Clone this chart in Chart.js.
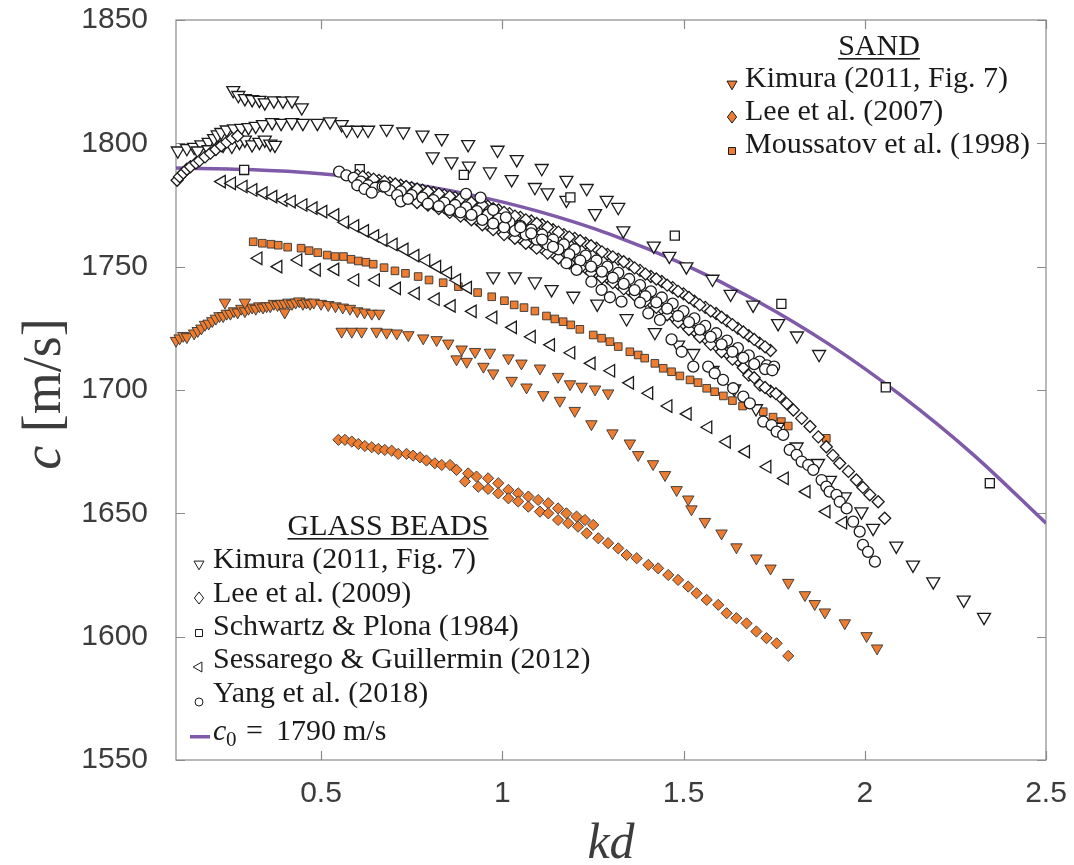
<!DOCTYPE html>
<html>
<head>
<meta charset="utf-8">
<script src="https://cdn.jsdelivr.net/npm/chart.js@4.4.1/dist/chart.umd.min.js"></script>
<style>
  html, body { margin: 0; padding: 0; background: #fff; }
  #wrap { width: 1074px; height: 865px; }
</style>
</head>
<body>
<div id="wrap"><canvas id="chart" width="1074" height="865"></canvas></div>
<script>
// axis ticks
const xTicks = [0.5, 1, 1.5, 2, 2.5];
const xTickLabels = ['0.5', '1', '1.5', '2', '2.5'];
const yTicks = [1550, 1600, 1650, 1700, 1750, 1800, 1850];
const yTickLabels = ['1550', '1600', '1650', '1700', '1750', '1800', '1850'];

// c0 = 1790 m/s reference curve
const lineX = [0.1, 0.3, 0.5, 0.7, 0.9, 1.1, 1.3, 1.5, 1.7, 1.9, 2.1, 2.3, 2.5];
const lineY = [1790, 1789.4, 1787.7, 1784.5, 1779.5, 1772.4, 1763, 1751, 1736.3, 1718.7, 1697.8, 1673.7, 1646];

// GLASS BEADS - Kimura (2011, Fig. 7)
const gkX = [
  0.258, 0.272, 0.29, 0.31, 0.33, 0.345, 0.37, 0.395, 0.42, 0.447,
  0.105, 0.13, 0.15, 0.17, 0.19, 0.205, 0.215, 0.225, 0.24, 0.26,
  0.28, 0.3, 0.32, 0.34, 0.365, 0.39, 0.42, 0.45, 0.49, 0.525,
  0.557, 0.571, 0.601, 0.63, 0.681, 0.727, 0.78, 0.833, 0.906, 0.987,
  1.04, 1.109, 1.177, 1.233, 1.288, 1.32,
  0.16, 0.19, 0.23, 0.254, 0.275, 0.29, 0.31, 0.33, 0.345, 0.36, 0.373,
  0.808, 0.86, 0.908, 0.966, 1.026, 1.09, 1.125, 1.177, 1.256, 1.334,
  1.418, 1.461, 1.508, 1.58, 1.63, 1.692, 1.761, 1.813, 1.874,
  0.975, 1.035, 1.09, 1.136, 1.196, 1.262, 1.343, 1.421, 1.485, 1.527,
  1.58, 1.64, 1.7, 1.76, 1.812, 1.871, 1.904, 1.945, 1.991, 2.023,
  2.087, 2.133, 2.189, 2.273, 2.329
];
const gkY = [
  1821.5, 1819.5, 1818.2, 1817.8, 1817.5, 1816.5, 1817.3, 1817.2, 1817.3, 1814.5,
  1797, 1798, 1798.5, 1799.5, 1800.5, 1802, 1803.5, 1804.5, 1805.5, 1806,
  1806.2, 1806.5, 1807, 1807.7, 1808.5, 1808.2, 1808.5, 1808.2, 1808.2, 1808.8,
  1807.7, 1805.4, 1805.4, 1805.4, 1805.8, 1804.7, 1803.4, 1802, 1799.6, 1797.3,
  1793.5, 1789.9, 1785.1, 1781.8, 1777, 1774.1,
  1797, 1797.5, 1799.3, 1798.9, 1800.5, 1801.4, 1799.5, 1800.5, 1801.4, 1799.8, 1799.3,
  1794.6, 1792.6, 1790.9, 1788.5, 1785.4, 1782.2, 1780, 1777, 1771.6, 1764.6,
  1758.4, 1754.3, 1750, 1745, 1738.9, 1734.5, 1727, 1722, 1714.5,
  1746, 1746, 1743.9, 1740.8, 1738.1, 1734.9, 1729, 1723.4, 1718.3, 1714.9,
  1708, 1700.5, 1692.5, 1685, 1677, 1670.3, 1663.5, 1656.8, 1650.7, 1644,
  1636.8, 1629.1, 1622.3, 1614.9, 1607.9
];

// GLASS BEADS - Lee et al. (2009)
const glX = [
  0.103, 0.11, 0.12, 0.13, 0.14, 0.155, 0.165, 0.18, 0.195, 0.21, 0.225, 0.24, 0.255, 0.27,
  0.60, 0.63, 0.66, 0.69, 0.72, 0.75, 0.78, 0.81, 0.84, 0.87,
  0.90, 0.93, 0.96, 0.99, 1.02, 1.05, 1.08, 1.11, 1.14, 1.17,
  1.20, 1.23, 1.26, 1.29, 1.32, 1.35, 1.38, 1.41, 1.44, 1.47,
  1.50, 1.53, 1.56, 1.59, 1.62, 1.65, 1.68, 1.71, 1.74,
  0.615, 0.645, 0.675, 0.705, 0.735, 0.765, 0.795, 0.825, 0.855, 0.885,
  0.915, 0.945, 0.975, 1.005, 1.035, 1.065, 1.095, 1.125, 1.155, 1.185,
  1.215, 1.245, 1.275, 1.305, 1.335, 1.365, 1.395, 1.425, 1.455, 1.485,
  1.515, 1.545, 1.575, 1.605, 1.635, 1.665, 1.695, 1.725,
  0.75, 0.78, 0.81, 0.84, 0.87, 0.90, 0.93, 0.96, 0.99, 1.02,
  1.05, 1.08, 1.11, 1.14, 1.17, 1.20, 1.23, 1.26, 1.29, 1.32,
  1.35, 1.38, 1.41, 1.44, 1.47, 1.50, 1.53, 1.56, 1.59, 1.62,
  1.65, 1.68, 1.711, 1.74, 1.766, 1.785, 1.803, 1.826, 1.849, 1.872,
  1.894, 1.912, 1.931, 1.955, 1.977, 1.995, 2.014, 2.037, 2.055,
  0.765, 0.795, 0.825, 0.855, 0.885, 0.915, 0.945, 0.975, 1.005, 1.035,
  1.065, 1.095, 1.125, 1.155, 1.185, 1.215, 1.245, 1.275, 1.305, 1.335,
  1.365, 1.395, 1.425, 1.455, 1.485, 1.515, 1.545, 1.575, 1.605, 1.635,
  1.665, 1.695, 1.725, 1.755
];
const glY = [
  1785, 1786.5, 1788, 1789.5, 1790.5, 1792, 1793, 1794.5, 1796, 1797.5, 1799, 1800.5, 1802, 1803,
  1787, 1786, 1785, 1784, 1783, 1782, 1781, 1780, 1779, 1778,
  1777, 1775.5, 1774.5, 1773, 1771.5, 1770, 1768.5, 1767, 1765, 1763,
  1761.5, 1759.5, 1757.5, 1755, 1753, 1751, 1748.5, 1746, 1744, 1741.5,
  1739, 1736, 1733.5, 1731, 1728, 1725, 1722, 1719, 1716,
  1786.5, 1785.5, 1784.5, 1783.5, 1782.5, 1781.5, 1780.5, 1779.5, 1778.5, 1777.5,
  1776, 1775, 1773.5, 1772, 1770.5, 1769, 1767.5, 1766, 1764, 1762,
  1760.5, 1758.5, 1756, 1754, 1752, 1749.5, 1747, 1745, 1742.5, 1740,
  1737.5, 1734.5, 1732, 1729.5, 1726.5, 1723.5, 1720.5, 1717.5,
  1778, 1777, 1775.5, 1774, 1772.5, 1771, 1769, 1767, 1765.5, 1763.5,
  1761.5, 1759.5, 1757.5, 1755.5, 1753.5, 1751.5, 1749.5, 1747.5, 1745.5, 1743,
  1740.5, 1738, 1735.5, 1733, 1730, 1727, 1724, 1721, 1718, 1715,
  1712, 1706, 1702, 1699.5, 1697.3, 1694.5, 1691.9, 1688.5, 1685.2, 1681,
  1677, 1673.5, 1670.3, 1667, 1663.5, 1660.5, 1657.5, 1654.7, 1648,
  1776, 1775, 1773.5, 1772, 1770.5, 1769, 1767, 1765, 1763, 1761.5,
  1759.5, 1757.5, 1755.5, 1753.5, 1751.5, 1749.5, 1747.5, 1745.5, 1743.5, 1741,
  1738.5, 1736, 1733.5, 1730.5, 1727.5, 1724.5, 1721.5, 1718.5, 1715.5, 1712.5,
  1709, 1705, 1701, 1698.5
];

// GLASS BEADS - Schwartz & Plona (1984)
const spX = [0.288, 0.607, 0.894, 1.188, 1.476, 1.77, 2.058, 2.345];
const spY = [1789.2, 1789.5, 1787.2, 1778.1, 1762.6, 1734.9, 1701.1, 1662.2];

// GLASS BEADS - Sessarego & Guillermin (2012)
const sgX = [
  0.226, 0.254, 0.286, 0.313, 0.341, 0.368, 0.396, 0.419, 0.451, 0.479,
  0.506, 0.539, 0.566, 0.594, 0.621, 0.649, 0.672, 0.70, 0.73, 0.76,
  0.79, 0.82, 0.85, 0.875, 0.905,
  0.327, 0.382, 0.437, 0.488, 0.539, 0.594, 0.651, 0.709, 0.761, 0.816,
  0.86, 0.918, 0.975, 1.029, 1.081, 1.134, 1.19, 1.246, 1.3, 1.352,
  1.405, 1.458, 1.511, 1.568, 1.619, 1.672, 1.731, 1.779, 1.839, 1.894,
  1.94
];
const sgY = [
  1784.5, 1783.8, 1782.5, 1781.1, 1779.8, 1778.4, 1777, 1776.4, 1775, 1773.7,
  1772.3, 1771, 1768, 1766.5, 1764.5, 1762.5, 1760.8, 1759, 1757, 1754.5,
  1752.5, 1750, 1747.5, 1744.5, 1741.5,
  1753.4, 1750, 1752.7, 1748.7, 1748.9, 1744.6, 1744.6, 1741.2, 1739.2, 1736.8,
  1734.1, 1731.9, 1729.4, 1725.4, 1721.6, 1718.3, 1715.1, 1710.8, 1707.8, 1702.9,
  1698.7, 1693.5, 1690.3, 1684.9, 1679, 1675, 1668.9, 1664.2, 1658.8, 1650.7,
  1646.2
];

// GLASS BEADS - Yang et al. (2018)
const yaX = [
  0.55, 0.57, 0.59, 0.61, 0.63, 0.65, 0.67, 0.69, 0.72, 0.75,
  0.78, 0.81, 0.84, 0.87, 0.90, 0.93, 0.96, 0.99, 1.02, 1.05,
  1.08, 1.11, 1.14, 1.17, 1.20, 1.23, 1.26, 1.29, 1.32, 1.35,
  1.38, 1.41, 1.44, 1.47, 1.50, 1.53, 1.56, 1.59, 1.62, 1.65,
  1.68, 1.71, 1.73, 1.75,
  0.795, 0.825, 0.855, 0.885, 0.915, 0.945, 0.975, 1.005, 1.035, 1.065,
  1.095, 1.125, 1.155, 1.185, 1.215, 1.245, 1.275, 1.305, 1.335, 1.365,
  1.395, 1.425, 1.455, 1.485, 1.515, 1.545, 1.575, 1.605, 1.635, 1.665,
  1.695, 1.725, 1.745,
  0.60, 0.62, 0.64, 0.676, 0.71, 0.72, 0.74,
  0.9, 0.94, 0.975, 1.01, 1.05, 1.08, 1.11, 1.14, 1.177, 1.205,
  1.246, 1.274, 1.297, 1.329, 1.38, 1.403, 1.435, 1.467, 1.495, 1.527,
  1.568, 1.586, 1.609, 1.637, 1.665, 1.683, 1.72, 1.743, 1.757, 1.775,
  1.793, 1.812, 1.826, 1.844, 1.858, 1.881, 1.894, 1.903, 1.922, 1.931,
  1.95, 1.968, 1.986, 1.995, 2.009, 2.028
];
const yaY = [
  1788.5, 1787, 1786, 1784.5, 1783, 1782, 1782.5, 1781, 1780.5, 1779,
  1778, 1777, 1776, 1775, 1774, 1772.5, 1771, 1769.5, 1768, 1766.5,
  1765, 1763, 1761, 1759, 1757, 1754.5, 1752.5, 1750, 1747.5, 1745,
  1742.5, 1740, 1737.5, 1735, 1732, 1729, 1726, 1723, 1720, 1717,
  1714, 1711.5, 1710, 1709.5,
  1775.5, 1774.5, 1773, 1772, 1771, 1769, 1767.5, 1766, 1764.5, 1763,
  1761, 1759, 1757, 1755, 1752.5, 1750, 1748, 1745.5, 1743, 1740.5,
  1738, 1735.5, 1733, 1730, 1727.5, 1724.5, 1721.5, 1718.5, 1715.5, 1713,
  1710.5, 1708.5, 1708,
  1783, 1781.5, 1780, 1782.5, 1779, 1776.5, 1777.5,
  1779.5, 1778, 1773, 1770, 1766, 1763.5, 1761, 1758, 1751.4, 1748.7,
  1743.9, 1740.6, 1737.6, 1735.8, 1735.4, 1731.1, 1728.4, 1720.5, 1715.5, 1709.5,
  1709.5, 1706.8, 1704.1, 1700.7, 1697.3, 1694.6, 1687.2, 1685.8, 1683.1, 1681.8,
  1675.7, 1673.7, 1671, 1669.6, 1667.6, 1663.5, 1660.8, 1658.8, 1657.5, 1654.7,
  1652, 1646.6, 1642.6, 1637.2, 1634.4, 1630.4
];

// SAND - Kimura (2011, Fig. 7)
const skX = [
  0.10, 0.11, 0.12, 0.13, 0.15, 0.16, 0.17, 0.18, 0.19, 0.20,
  0.21, 0.22, 0.23, 0.24, 0.25, 0.26, 0.27, 0.28, 0.29, 0.30,
  0.31, 0.32, 0.33, 0.34, 0.35, 0.36, 0.37, 0.38, 0.39, 0.40,
  0.41, 0.42, 0.43, 0.44, 0.45, 0.46, 0.47, 0.48, 0.50, 0.52,
  0.54, 0.56, 0.58, 0.60, 0.62, 0.64, 0.66,
  0.235, 0.29, 0.40,
  0.557, 0.585, 0.612, 0.653, 0.681, 0.709, 0.741, 0.782, 0.819, 0.851,
  0.888, 0.925, 0.966, 1.017, 1.053, 1.104, 1.154, 1.187, 1.219, 1.256,
  1.292,
  0.874, 0.902, 0.948, 0.975, 1.026, 1.067, 1.113, 1.159, 1.2, 1.246,
  1.304, 1.352, 1.375, 1.416, 1.449, 1.481, 1.513, 1.522, 1.559, 1.605,
  1.646, 1.701, 1.74, 1.789, 1.835, 1.862, 1.89, 1.945, 2.005, 2.034
];
const skY = [
  1720, 1721, 1722, 1721.5, 1723, 1724, 1725, 1726.5, 1727, 1728,
  1729, 1730, 1730, 1731, 1731, 1732, 1731.5, 1733, 1732, 1733,
  1733.5, 1733, 1734, 1733.5, 1734, 1734, 1735, 1734.5, 1735, 1735,
  1735.5, 1735, 1735.5, 1736, 1735, 1735.5, 1735, 1735.5, 1735, 1734.5,
  1734, 1733.5, 1733, 1732, 1731.5, 1731, 1731,
  1735.5, 1735.5, 1731.5,
  1723.7, 1723.7, 1723.7, 1723.7, 1723.3, 1723, 1722.3, 1721, 1720.3, 1718.9,
  1716.5, 1715.5, 1715.2, 1712.9, 1710.8, 1708.8, 1705.4, 1702.4, 1701.4, 1700.3,
  1698.7,
  1712.5, 1711.5, 1709.5, 1706.8, 1703.8, 1701.1, 1698, 1695.7, 1691.6, 1686.2,
  1682.5, 1678.4, 1673.7, 1670, 1665.6, 1659.5, 1655.7, 1651.7, 1646.6, 1641.9,
  1636.3, 1631.8, 1627.7, 1621.9, 1616.9, 1613.3, 1609.9, 1605.5, 1600.3, 1595.3
];

// SAND - Lee et al. (2007)
const slX = [
  0.548, 0.566, 0.585, 0.603, 0.621, 0.64, 0.658, 0.676, 0.695, 0.713,
  0.736, 0.754, 0.773, 0.791, 0.814, 0.833, 0.856, 0.874, 0.897, 0.906,
  0.929, 0.934, 0.961, 0.961, 0.989, 0.989, 1.017, 1.017, 1.044, 1.044,
  1.072, 1.072, 1.099, 1.104, 1.127, 1.127, 1.154, 1.154, 1.177, 1.182,
  1.205, 1.209, 1.228, 1.251, 1.233, 1.265, 1.292, 1.32, 1.343, 1.371,
  1.403, 1.43, 1.458, 1.485, 1.513, 1.536, 1.564, 1.596, 1.619, 1.646,
  1.674, 1.701, 1.729, 1.757, 1.789
];
const slY = [
  1679.8, 1679.8, 1679.1, 1678.1, 1677.3, 1676.8, 1676.1, 1675.7, 1675.4, 1674.1,
  1674.1, 1673.4, 1672.7, 1671.4, 1670.3, 1669.6, 1669.6, 1667.6, 1662.9, 1666.2,
  1664.9, 1660.8, 1664.2, 1659.9, 1662.2, 1658.1, 1659.5, 1656.1, 1658.1, 1654.8,
  1656.8, 1652.7, 1655.4, 1650.7, 1654.1, 1650, 1652, 1647.3, 1650, 1646,
  1648.7, 1644.6, 1647.3, 1645.3, 1641.9, 1639.9, 1637.9, 1635.8, 1633.1, 1631.8,
  1629.1, 1627.7, 1625, 1623, 1620.3, 1617.6, 1614.9, 1612.9, 1609.5, 1607.5,
  1605.4, 1602.1, 1599.4, 1597.3, 1592.2
];

// SAND - Moussatov et al. (1998)
const smX = [
  0.313, 0.338, 0.362, 0.382, 0.408, 0.445, 0.467, 0.491, 0.517, 0.539,
  0.562, 0.583, 0.603, 0.624, 0.644, 0.674, 0.704, 0.733, 0.768, 0.798,
  0.837, 0.879, 0.932, 0.971, 1.006, 1.033, 1.06, 1.09, 1.122, 1.145,
  1.168, 1.189, 1.214, 1.251, 1.274, 1.297, 1.32, 1.352, 1.375, 1.393,
  1.421, 1.444, 1.467, 1.49, 1.518, 1.54, 1.564, 1.586, 1.61, 1.635,
  1.663, 1.72, 1.747, 1.77, 1.789, 1.894
];
const smY = [
  1760.1, 1759.5, 1759.1, 1758.7, 1757.9, 1757.5, 1756.5, 1755.7, 1754.7, 1754.1,
  1754.1, 1753, 1752.3, 1751.8, 1751, 1749.6, 1748.3, 1747.3, 1746, 1744.6,
  1743.5, 1741.9, 1739.5, 1737.8, 1736.2, 1734.5, 1733.4, 1732, 1730, 1728.8,
  1727.7, 1726.4, 1724.6, 1722.3, 1721, 1719.6, 1717.6, 1715.5, 1714.2, 1712.9,
  1710.8, 1708.8, 1707.4, 1705.7, 1704.1, 1703, 1700.7, 1699.3, 1697.6, 1695.7,
  1693.5, 1691.2, 1689, 1687.2, 1685.4, 1680.4
];

const ORANGE = '#ED7D31';
const PURPLE = '#7E5AA8';
const EDGE = '#1a1a1a';
const SERIF = '"Liberation Serif", "Times New Roman", serif';
const SANS = '"Liberation Sans", Arial, Helvetica, sans-serif';

function pts(xs, ys) {
  return xs.map(function(x, i) { return { x: x, y: ys[i] }; });
}

function glassSet(label, xs, ys, style, rotation, radius) {
  return {
    label: label, data: pts(xs, ys), pointStyle: style, rotation: rotation,
    pointRadius: radius, backgroundColor: '#ffffff', borderColor: EDGE,
    borderWidth: 1.3, clip: false
  };
}

function sandSet(label, xs, ys, style, rotation, radius) {
  return {
    label: label, data: pts(xs, ys), pointStyle: style, rotation: rotation,
    pointRadius: radius, backgroundColor: ORANGE, borderColor: '#333333',
    borderWidth: 0.9, clip: false
  };
}

// small marker drawn by hand for the two legends
function marker(ctx, kind, x, y, s, fill) {
  ctx.save();
  ctx.fillStyle = fill;
  ctx.strokeStyle = EDGE;
  ctx.lineWidth = 1;
  ctx.beginPath();
  if (kind === 'down') {
    ctx.moveTo(x - s / 2, y - s * 0.29);
    ctx.lineTo(x + s / 2, y - s * 0.29);
    ctx.lineTo(x, y + s * 0.58);
  } else if (kind === 'left') {
    ctx.moveTo(x + s * 0.29, y - s / 2);
    ctx.lineTo(x + s * 0.29, y + s / 2);
    ctx.lineTo(x - s * 0.58, y);
  } else if (kind === 'diamond') {
    ctx.moveTo(x, y - s * 0.55);
    ctx.lineTo(x + s * 0.42, y);
    ctx.lineTo(x, y + s * 0.55);
    ctx.lineTo(x - s * 0.42, y);
  } else if (kind === 'square') {
    ctx.rect(x - s / 2, y - s / 2, s, s);
  } else {
    ctx.arc(x, y, s / 2, 0, Math.PI * 2);
  }
  ctx.closePath();
  ctx.fill();
  ctx.stroke();
  ctx.restore();
}

const framePlugin = {
  id: 'frame',
  beforeDatasetsDraw: function(chart) {
    const ctx = chart.ctx;
    const a = chart.chartArea;
    const xs = chart.scales.x;
    const ys = chart.scales.y;
    ctx.save();
    ctx.strokeStyle = '#8a8a8a';
    ctx.lineWidth = 1.2;
    ctx.strokeRect(a.left, a.top, a.right - a.left, a.bottom - a.top);
    ctx.beginPath();
    xTicks.forEach(function(v) {
      const px = Math.round(xs.getPixelForValue(v)) + 0.5;
      ctx.moveTo(px, a.bottom); ctx.lineTo(px, a.bottom - 9);
      ctx.moveTo(px, a.top); ctx.lineTo(px, a.top + 9);
    });
    yTicks.forEach(function(v) {
      const py = Math.round(ys.getPixelForValue(v)) + 0.5;
      ctx.moveTo(a.left, py); ctx.lineTo(a.left + 9, py);
      ctx.moveTo(a.right, py); ctx.lineTo(a.right - 9, py);
    });
    ctx.stroke();
    ctx.restore();
  },
  afterDraw: function(chart) {
    const ctx = chart.ctx;
    ctx.save();
    ctx.fillStyle = '#1a1a1a';
    ctx.strokeStyle = '#1a1a1a';
    ctx.textBaseline = 'alphabetic';

    // y axis title: c [m/s]
    ctx.save();
    ctx.translate(60, 394);
    ctx.rotate(-Math.PI / 2);
    ctx.fillStyle = '#3c3c3c';
    ctx.font = 'italic 54px ' + SERIF;
    const cw = ctx.measureText('c ').width;
    ctx.font = '54px ' + SERIF;
    const rw = ctx.measureText('[m/s]').width;
    const start = -(cw + rw) / 2;
    ctx.font = 'italic 54px ' + SERIF;
    ctx.fillText('c', start, 0);
    ctx.font = '54px ' + SERIF;
    ctx.fillText('[m/s]', start + cw, 0);
    ctx.restore();

    // x axis title: kd
    ctx.save();
    ctx.fillStyle = '#3c3c3c';
    ctx.font = 'italic 50px ' + SERIF;
    ctx.textAlign = 'center';
    ctx.fillText('kd', 611, 858);
    ctx.restore();

    // SAND legend
    ctx.font = '30px ' + SERIF;
    ctx.textAlign = 'center';
    ctx.fillText('SAND', 879, 55);
    let w = ctx.measureText('SAND').width;
    ctx.fillRect(879 - w / 2, 58, w, 1.6);
    ctx.textAlign = 'left';
    ctx.fillText('Kimura (2011, Fig. 7)', 745, 87);
    ctx.fillText('Lee et al. (2007)', 745, 120);
    ctx.fillText('Moussatov et al. (1998)', 745, 153);
    marker(ctx, 'down', 732, 84, 10, ORANGE);
    marker(ctx, 'diamond', 732, 117, 11, ORANGE);
    marker(ctx, 'square', 732, 151, 7, ORANGE);

    // GLASS BEADS legend
    ctx.textAlign = 'center';
    ctx.fillText('GLASS BEADS', 388, 535);
    w = ctx.measureText('GLASS BEADS').width;
    ctx.fillRect(388 - w / 2, 538, w, 1.6);
    ctx.textAlign = 'left';
    ctx.fillText('Kimura (2011, Fig. 7)', 213, 568);
    ctx.fillText('Lee et al. (2009)', 213, 602);
    ctx.fillText('Schwartz & Plona (1984)', 213, 635);
    ctx.fillText('Sessarego & Guillermin (2012)', 213, 668);
    ctx.fillText('Yang et al. (2018)', 213, 702);
    marker(ctx, 'down', 199, 564, 10, '#fff');
    marker(ctx, 'diamond', 199, 598, 11, '#fff');
    marker(ctx, 'square', 199, 633, 7, '#fff');
    marker(ctx, 'left', 199, 667, 10, '#fff');
    marker(ctx, 'circle', 199, 702, 8, '#fff');

    // c0 legend entry
    ctx.fillStyle = PURPLE;
    ctx.fillRect(190, 735, 20, 3.5);
    ctx.fillStyle = '#1a1a1a';
    ctx.font = 'italic 30px ' + SERIF;
    ctx.fillText('c', 213, 740);
    ctx.font = '21px ' + SERIF;
    ctx.fillText('0', 226, 746);
    ctx.font = '30px ' + SERIF;
    ctx.fillText('=', 246, 740);
    ctx.fillText('1790', 276, 740);
    ctx.fillText('m/s', 343, 740);
    ctx.restore();
  }
};

const datasets = [
  glassSet('Yang et al. (2018)', yaX, yaY, 'circle', 0, 5.5),
  glassSet('Lee et al. (2009)', glX, glY, 'rectRot', 0, 6),
  glassSet('Schwartz & Plona (1984)', spX, spY, 'rect', 0, 6.4),
  glassSet('Kimura (2011, Fig. 7)', gkX, gkY, 'triangle', 180, 7.5),
  glassSet('Sessarego & Guillermin (2012)', sgX, sgY, 'triangle', 270, 7.2),
  sandSet('Kimura (2011, Fig. 7)', skX, skY, 'triangle', 180, 6.6),
  sandSet('Lee et al. (2007)', slX, slY, 'rectRot', 0, 5.6),
  sandSet('Moussatov et al. (1998)', smX, smY, 'rect', 0, 5.4),
  {
    label: 'c0 = 1790 m/s', data: pts(lineX, lineY), showLine: true,
    borderColor: PURPLE, borderWidth: 3.5, pointRadius: 0,
    cubicInterpolationMode: 'monotone', fill: false
  }
];

new Chart(document.getElementById('chart'), {
  type: 'scatter',
  data: { datasets: datasets },
  options: {
    responsive: false,
    animation: false,
    devicePixelRatio: 1,
    layout: { padding: { left: 0, right: 28, top: 20, bottom: 0 } },
    plugins: { legend: { display: false }, tooltip: { enabled: false } },
    scales: {
      x: {
        type: 'linear', min: 0.1, max: 2.5,
        afterBuildTicks: function(s) { s.ticks = xTicks.map(function(v) { return { value: v }; }); },
        afterFit: function(s) {
          s.height = 105;
          s.paddingLeft = 0; s.paddingRight = 0; s.paddingTop = 0; s.paddingBottom = 0;
        },
        grid: { display: false },
        border: { display: false },
        ticks: {
          autoSkip: false, maxRotation: 0, padding: 8, color: '#3c3c3c',
          font: { family: SANS, size: 30 },
          callback: function(v, i) { return xTickLabels[i]; }
        }
      },
      y: {
        type: 'linear', min: 1550, max: 1850,
        afterBuildTicks: function(s) { s.ticks = yTicks.map(function(v) { return { value: v }; }); },
        afterFit: function(s) {
          s.width = 176;
          s.paddingLeft = 0; s.paddingRight = 0; s.paddingTop = 0; s.paddingBottom = 0;
        },
        grid: { display: false },
        border: { display: false },
        ticks: {
          autoSkip: false, padding: 20, color: '#3c3c3c',
          font: { family: SANS, size: 30 },
          callback: function(v, i) { return yTickLabels[i]; }
        }
      }
    }
  },
  plugins: [framePlugin]
});
</script>
</body>
</html>
